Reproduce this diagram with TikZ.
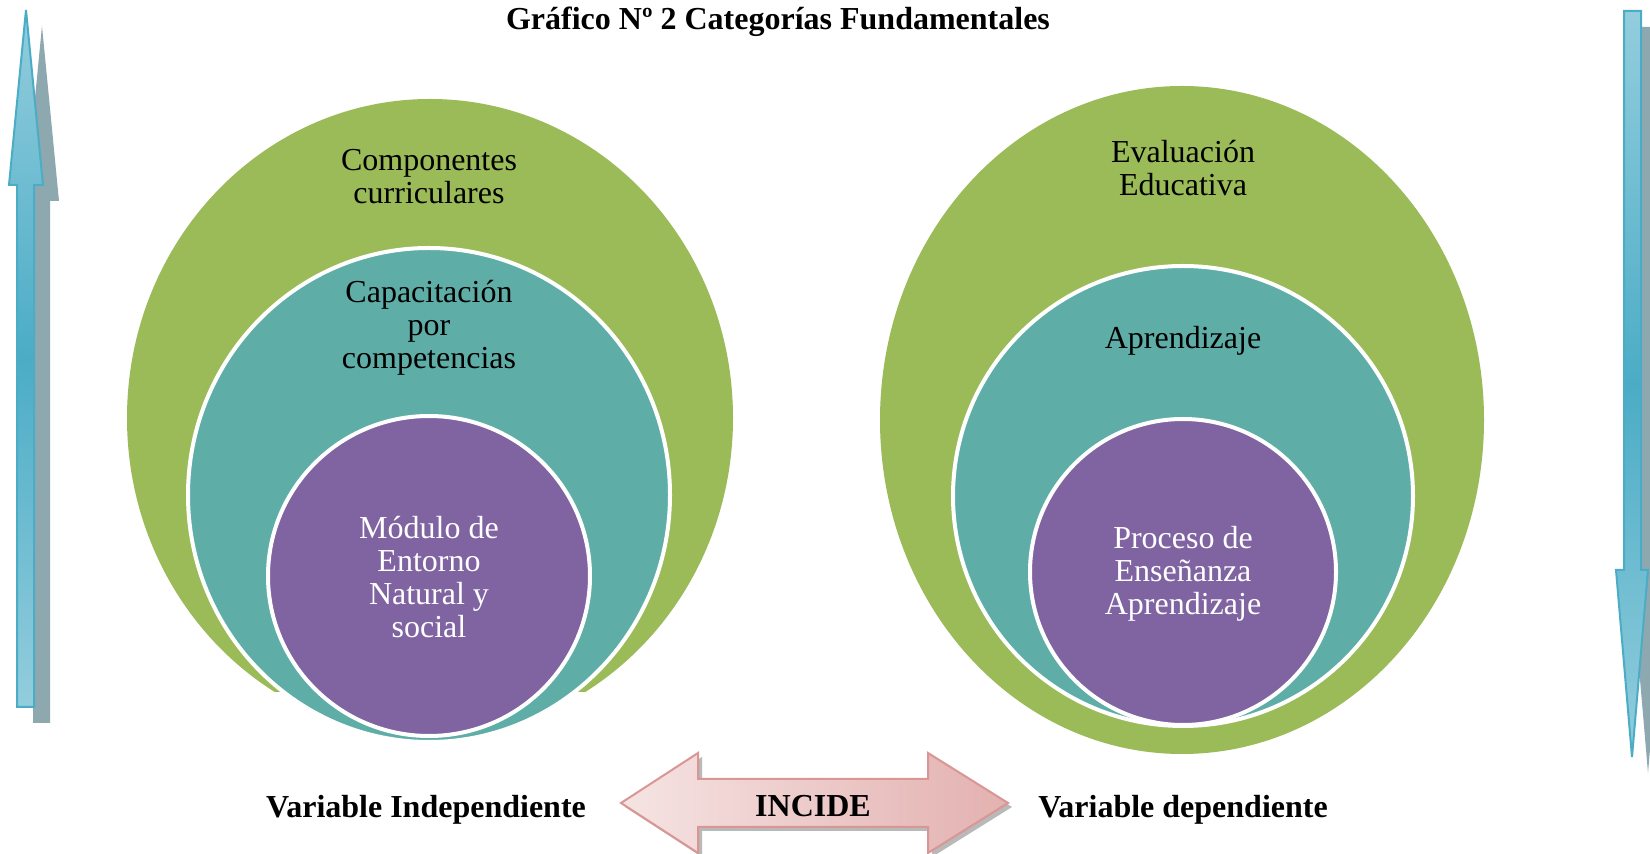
\documentclass[tikz,border=0pt]{standalone}
\usepackage{fontspec}
\setmainfont{Liberation Serif}
\definecolor{ringgreen}{HTML}{9BBB59}
\definecolor{ringteal}{HTML}{5EAEA7}
\definecolor{ringpurple}{HTML}{8064A2}
\definecolor{bluelight}{HTML}{93CDDD}
\definecolor{bluedark}{HTML}{4BACC6}
\definecolor{bluecast}{HTML}{8EA8B0}
\definecolor{pinklight}{HTML}{F5E4E3}
\definecolor{pinkdark}{HTML}{E3B1B0}
\definecolor{pinkline}{HTML}{D99694}
\begin{document}
\begin{tikzpicture}[x=0.5pt,y=-0.5pt,
	lbl/.style={font=\fontsize{16}{16.5}\selectfont,align=center,inner sep=0pt},
	hdr/.style={font=\fontsize{16}{16.5}\selectfont\bfseries,inner sep=0pt},
	ringline/.style={draw=white,line width=2pt},
	bluearrow/.style={top color=bluelight,bottom color=bluelight,middle color=bluedark,draw=bluedark,line width=1pt},
	arrowcast/.style={fill=bluecast}]
\useasboundingbox (0,0) rectangle (1650,854);
\fill[white] (0,0) rectangle (1650,854);
\node[hdr,anchor=base] (titulo) at (778,30) {Gráfico Nº 2 Categorías Fundamentales};
\fill[arrowcast] (33,723)--(33,201)--(25,201)--(42,26)--(59,201)--(50,201)--(50,723)--cycle;
\shade[bluearrow] (17,707)--(17,185)--(9,185)--(26,10)--(43,185)--(34,185)--(34,707)--cycle;
\fill[arrowcast] (1640,27)--(1657,27)--(1657,586)--(1664,586)--(1648,773)--(1632,586)--(1640,586)--cycle;
\shade[bluearrow] (1624,11)--(1641,11)--(1641,570)--(1648,570)--(1632,757)--(1616,570)--(1624,570)--cycle;
\begin{scope}
\clip (0,0) rectangle (1650,692);
\fill[ringgreen] (430,418) ellipse [x radius=303,y radius=319];
\end{scope}
\filldraw[ringteal,ringline] (429,495) ellipse [x radius=241,y radius=247];
\filldraw[ringpurple,ringline] (429,576) ellipse [x radius=161,y radius=160];
\node[lbl] (componentes) at (429,177) {Componentes\\curriculares};
\node[lbl] (capacitacion) at (429,328) {Capacitación\\por\\competencias};
\node[lbl,text=white] (modulo) at (429,577) {Módulo de\\Entorno\\Natural y\\social};
\fill[ringgreen] (1182,420) ellipse [x radius=302,y radius=334];
\filldraw[ringteal,ringline] (1183,496) ellipse [x radius=230,y radius=230];
\filldraw[ringpurple,ringline] (1183,572) ellipse [x radius=153,y radius=153];
\node[lbl] (evaluacion) at (1183,168) {Evaluación\\Educativa};
\node[lbl] (aprendizaje) at (1183,341) {Aprendizaje};
\node[lbl,text=white] (proceso) at (1183,574) {Proceso de\\Enseñanza\\Aprendizaje};
\fill[gray!55] (625,807)--(702,757)--(702,783)--(932,783)--(932,757)--(1012,807)--(932,857)--(932,831)--(702,831)--(702,857)--cycle;
\shade[left color=pinklight,right color=pinkdark,draw=pinkline,line width=1pt] (621,803)--(698,753)--(698,779)--(928,779)--(928,753)--(1008,803)--(928,853)--(928,827)--(698,827)--(698,853)--cycle;
\node[hdr] (incide) at (813,806) {INCIDE};
\node[hdr] (independiente) at (426,810) {Variable Independiente};
\node[hdr] (dependiente) at (1183,810) {Variable dependiente};
\end{tikzpicture}
\end{document}
